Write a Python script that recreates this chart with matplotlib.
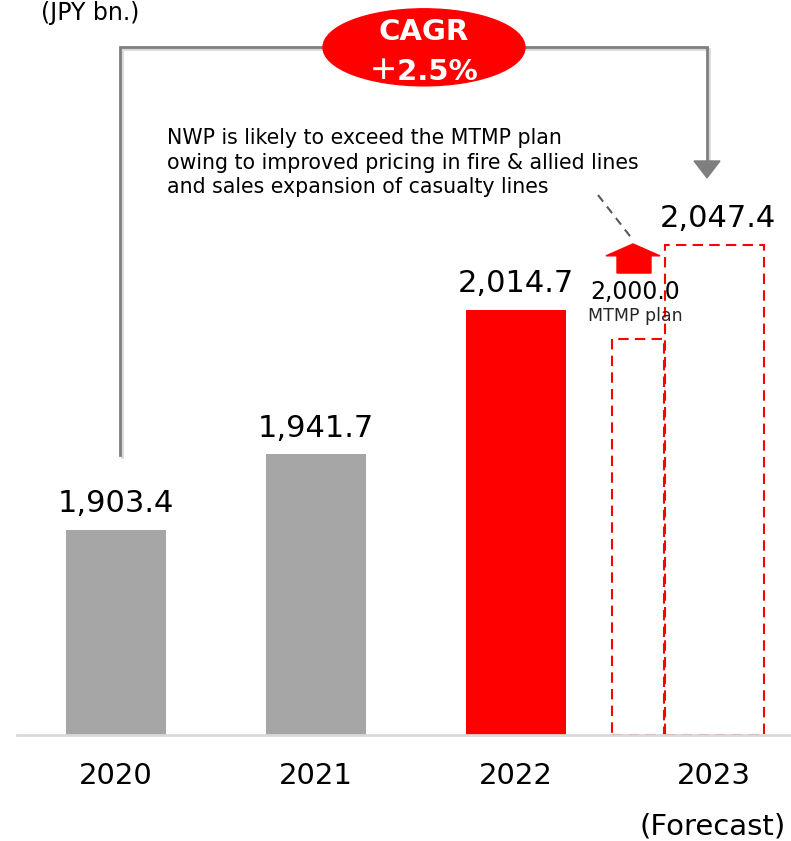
import matplotlib
matplotlib.use('Agg')
import matplotlib.pyplot as plt
import matplotlib.patheffects as pe
from matplotlib.patches import Ellipse, Polygon

# data
years = ['2020', '2021', '2022', '2023']
nwp = [1903.4, 1941.7, 2014.7, 2047.4]
mtmp_plan = 2000.0
cagr_text = '＋2.5%'
note = ('NWP is likely to exceed the MTMP plan\n'
        'owing to improved pricing in fire & allied lines\n'
        'and sales expansion of casualty lines')

base = 1800
bar_colors = ['#a6a6a6', '#a6a6a6', '#ff0000']

fig = plt.figure(figsize=(7.91, 8.41), dpi=100)
ax = fig.add_axes([17 / 791, 106 / 841, 774 / 791, 735 / 841])
ax.set_xlim(-0.495, 3.375)
ax.set_ylim(base, 2171.2)

# actual bars
ax.bar(range(3), [v - base for v in nwp[:3]], bottom=base, width=0.5,
       color=bar_colors, zorder=2)
# forecast + plan (dashed outlines)
ax.bar(2.99, nwp[3] - base, bottom=base, width=0.495, fill=False,
       edgecolor='#ff0000', linestyle=(0, (5, 3)), lw=1.5, zorder=2)
ax.bar(2.61, mtmp_plan - base, bottom=base, width=0.26, fill=False,
       edgecolor='#ff0000', linestyle=(0, (5, 3)), lw=1.5, zorder=2)

for sp in ['top', 'left', 'right']:
    ax.spines[sp].set_visible(False)
ax.spines['bottom'].set_color('#d9d9d9')
ax.spines['bottom'].set_linewidth(2)
ax.set_xticks([])
ax.set_yticks([])

# value labels
for i, v in enumerate(nwp):
    xi = 3.01 if i == 3 else i
    ax.text(xi, v + 9, f'{v:,.1f}', ha='center', va='baseline',
            fontsize=22, color='black')

ax.text(2.595, mtmp_plan + 20, f'{mtmp_plan:,.1f}', ha='center',
        va='baseline', fontsize=17, color='black')
ax.text(2.595, mtmp_plan + 11.6, 'MTMP plan', ha='center', va='center',
        fontsize=12.5, color='#262626')

# year labels
for i, y in enumerate(years):
    ax.text(i if i < 3 else 2.99, base - 20.7, y, ha='center', va='center',
            fontsize=21, clip_on=False)
ax.text(2.985, base - 46, '(Forecast)', ha='center', va='center',
        fontsize=21, clip_on=False)

ax.text(-0.13, 2164.6, '(JPY bn.)', ha='center', va='center', fontsize=17,
        clip_on=False)

# CAGR bracket
gray = '#7f7f7f'
top_y = 2147.3
shadow = [pe.SimpleLineShadow(offset=(1.5, -1.5), alpha=0.15), pe.Normal()]
ax.plot([0.02, 0.02, 2.955, 2.955], [nwp[0] + 38, top_y, top_y, nwp[3] + 42],
        color=gray, lw=2, solid_joinstyle='miter', zorder=3, clip_on=False,
        path_effects=shadow)
ax.add_patch(Polygon([(2.89, nwp[3] + 42.5), (3.02, nwp[3] + 42.5),
                      (2.955, nwp[3] + 34)], closed=True, color=gray,
                     zorder=3))
ax.add_patch(Ellipse((1.54, top_y), 1.01, 38.9, color='#ff0000', zorder=4,
                     clip_on=False))
ax.text(1.54, 2155, 'CAGR', ha='center', va='center', fontsize=21,
        fontweight='bold', color='white', zorder=5)
ax.text(1.54, 2135, cagr_text, ha='center', va='center', fontsize=21,
        fontweight='bold', color='white', zorder=5,
        family=['DejaVu Sans', 'Noto Sans CJK JP'])

# note
ax.text(0.255, 2089, note, ha='left', va='center', fontsize=14.8,
        linespacing=1.27, color='black')
ax.plot([2.41, 2.585], [2072.7, 2050], color='#595959', lw=1.5,
        linestyle=(0, (4, 3)), zorder=3)

# red up arrow above plan
ax.add_patch(Polygon([(2.505, 2033.3), (2.675, 2033.3), (2.675, 2042),
                      (2.72, 2042), (2.585, 2048), (2.45, 2042),
                      (2.505, 2042)], closed=True, color='#ff0000',
                     zorder=3))

fig.savefig('out.png', dpi=100)
